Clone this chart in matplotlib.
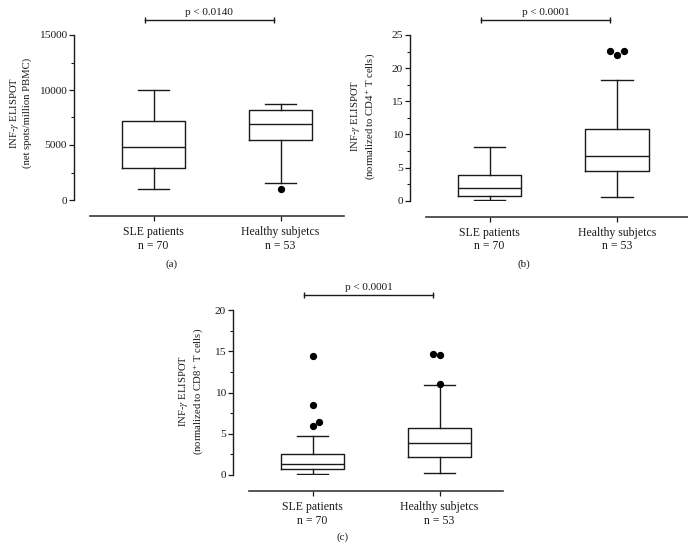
import matplotlib
matplotlib.use("Agg")
import matplotlib.pyplot as plt
from matplotlib.ticker import MultipleLocator

plt.rcParams['font.family'] = ['Liberation Serif', 'DejaVu Serif']
plt.rcParams['mathtext.fontset'] = 'stix'

# group labels
groups = ['SLE patients\nn = 70', 'Healthy subjetcs\nn = 53']

# panel (a): net spots / million PBMC  (whislo, q1, med, q3, whishi)
a_sle = [970, 2910, 4790, 7150, 10000]
a_healthy = [1570, 5450, 6900, 8180, 8730]
a_sle_out = []
a_healthy_out = [1030]

# panel (b): normalized to CD4+ T cells
b_sle = [0.05, 0.75, 1.86, 3.82, 8.05]
b_healthy = [0.6, 4.48, 6.8, 10.87, 18.2]
b_sle_out = []
b_healthy_out = [22.6, 22.0, 22.6]

# panel (c): normalized to CD8+ T cells
c_sle = [0.08, 0.69, 1.33, 2.5, 4.73]
c_healthy = [0.28, 2.14, 3.84, 5.66, 10.87]
c_sle_out = [14.46, 8.48, 5.98, 6.38]
c_healthy_out = [14.67, 14.59, 11.07]

p_texts = ['p < 0.0140', 'p < 0.0001', 'p < 0.0001']

W, H = 688, 559
fig = plt.figure(figsize=(W / 100, H / 100), dpi=100)
fig.patch.set_facecolor('white')

LC = '#1a1a1a'
LW = 1.0


def px_rect(left, right, top, bottom):
    return [left / W, 1 - bottom / H, (right - left) / W, (bottom - top) / H]


def stats(vals, label):
    lo, q1, med, q3, hi = vals
    return dict(whislo=lo, q1=q1, med=med, q3=q3, whishi=hi, fliers=[], label=label)


def draw_panel(rect, sle, healthy, outliers, offsets, ymax, ystep, ylabel,
               label_xy, ptext, tag, tag_xy, xmax=2.5):
    ax = fig.add_axes(px_rect(*rect))
    ax.bxp([stats(sle, groups[0]), stats(healthy, groups[1])], positions=[1, 2],
           widths=0.5, showfliers=False, patch_artist=False,
           boxprops=dict(color=LC, lw=LW),
           whiskerprops=dict(color=LC, lw=LW),
           capprops=dict(color=LC, lw=LW),
           medianprops=dict(color=LC, lw=LW),
           capwidths=0.25)
    # outliers, spread sideways like the original
    for pos, vals, offs in zip([1, 2], outliers, offsets):
        ax.scatter([pos + o for o in offs], vals, s=18, color='black', zorder=3, clip_on=False)

    ax.set_xlim(0.5, xmax)
    ax.set_ylim(0, ymax)
    for s in ['top', 'right']:
        ax.spines[s].set_visible(False)
    ax.spines['left'].set_position(('outward', 11.5))
    ax.spines['bottom'].set_position(('outward', 11.5))
    ax.spines['left'].set_bounds(0, ymax)
    ax.spines['left'].set_linewidth(LW)
    ax.spines['bottom'].set_linewidth(1.2)
    ax.spines['left'].set_color(LC)
    ax.spines['bottom'].set_color('#3a3a3a')
    ax.yaxis.set_major_locator(MultipleLocator(ystep))
    ax.yaxis.set_minor_locator(MultipleLocator(ystep / 2))
    ax.tick_params(axis='y', which='major', length=3.5, width=0.9, pad=1.5, labelsize=8.2, colors=LC)
    ax.tick_params(axis='y', which='minor', length=2, width=0.8, colors=LC)
    ax.tick_params(axis='x', length=3.5, width=0.9, pad=4, labelsize=8.5, colors=LC)
    ax.set_xticks([1, 2])
    ax.set_xticklabels(groups, linespacing=1.15)

    # significance bracket
    tr = ax.get_xaxis_transform()
    ax.plot([0.93, 1.95], [1.09, 1.09], color=LC, lw=LW, transform=tr, clip_on=False)
    ax.plot([0.93, 1.95], [1.09, 1.09], ls='none', marker='|', ms=5, mew=LW,
            color=LC, transform=tr, clip_on=False)
    ax.text(1.44, 1.11, ptext, transform=tr, ha='center', va='bottom', fontsize=8, color=LC)

    fig.text(label_xy[0] / W, 1 - label_xy[1] / H, ylabel, rotation=90,
             ha='center', va='center', fontsize=7.7, linespacing=1.2, color=LC)
    fig.text(tag_xy[0] / W, 1 - tag_xy[1] / H, tag, ha='center', va='center',
             fontsize=8, color=LC)
    return ax


draw_panel((90, 344, 35, 200), a_sle, a_healthy, [a_sle_out, a_healthy_out],
           [[], [0]], 15000, 5000,
           'INF-$\\gamma$ ELISPOT\n(net spots/million PBMC)', (20, 113),
           p_texts[0], '(a)', (172, 264))

draw_panel((426, 688, 35, 200.7), b_sle, b_healthy, [b_sle_out, b_healthy_out],
           [[], [-0.057, 0, 0.055]], 25, 5,
           'INF-$\\gamma$ ELISPOT\n(normalized to CD4$^{+}$ T cells)', (363, 116),
           p_texts[1], '(b)', (524, 264), xmax=2.56)

draw_panel((249, 503, 310, 475), c_sle, c_healthy, [c_sle_out, c_healthy_out],
           [[0, 0, 0, 0.052], [-0.052, 0, 0]], 20, 5,
           'INF-$\\gamma$ ELISPOT\n(normalized to CD8$^{+}$ T cells)', (191, 391),
           p_texts[2], '(c)', (343, 537))

fig.savefig('out.png', dpi=100, facecolor='white')
